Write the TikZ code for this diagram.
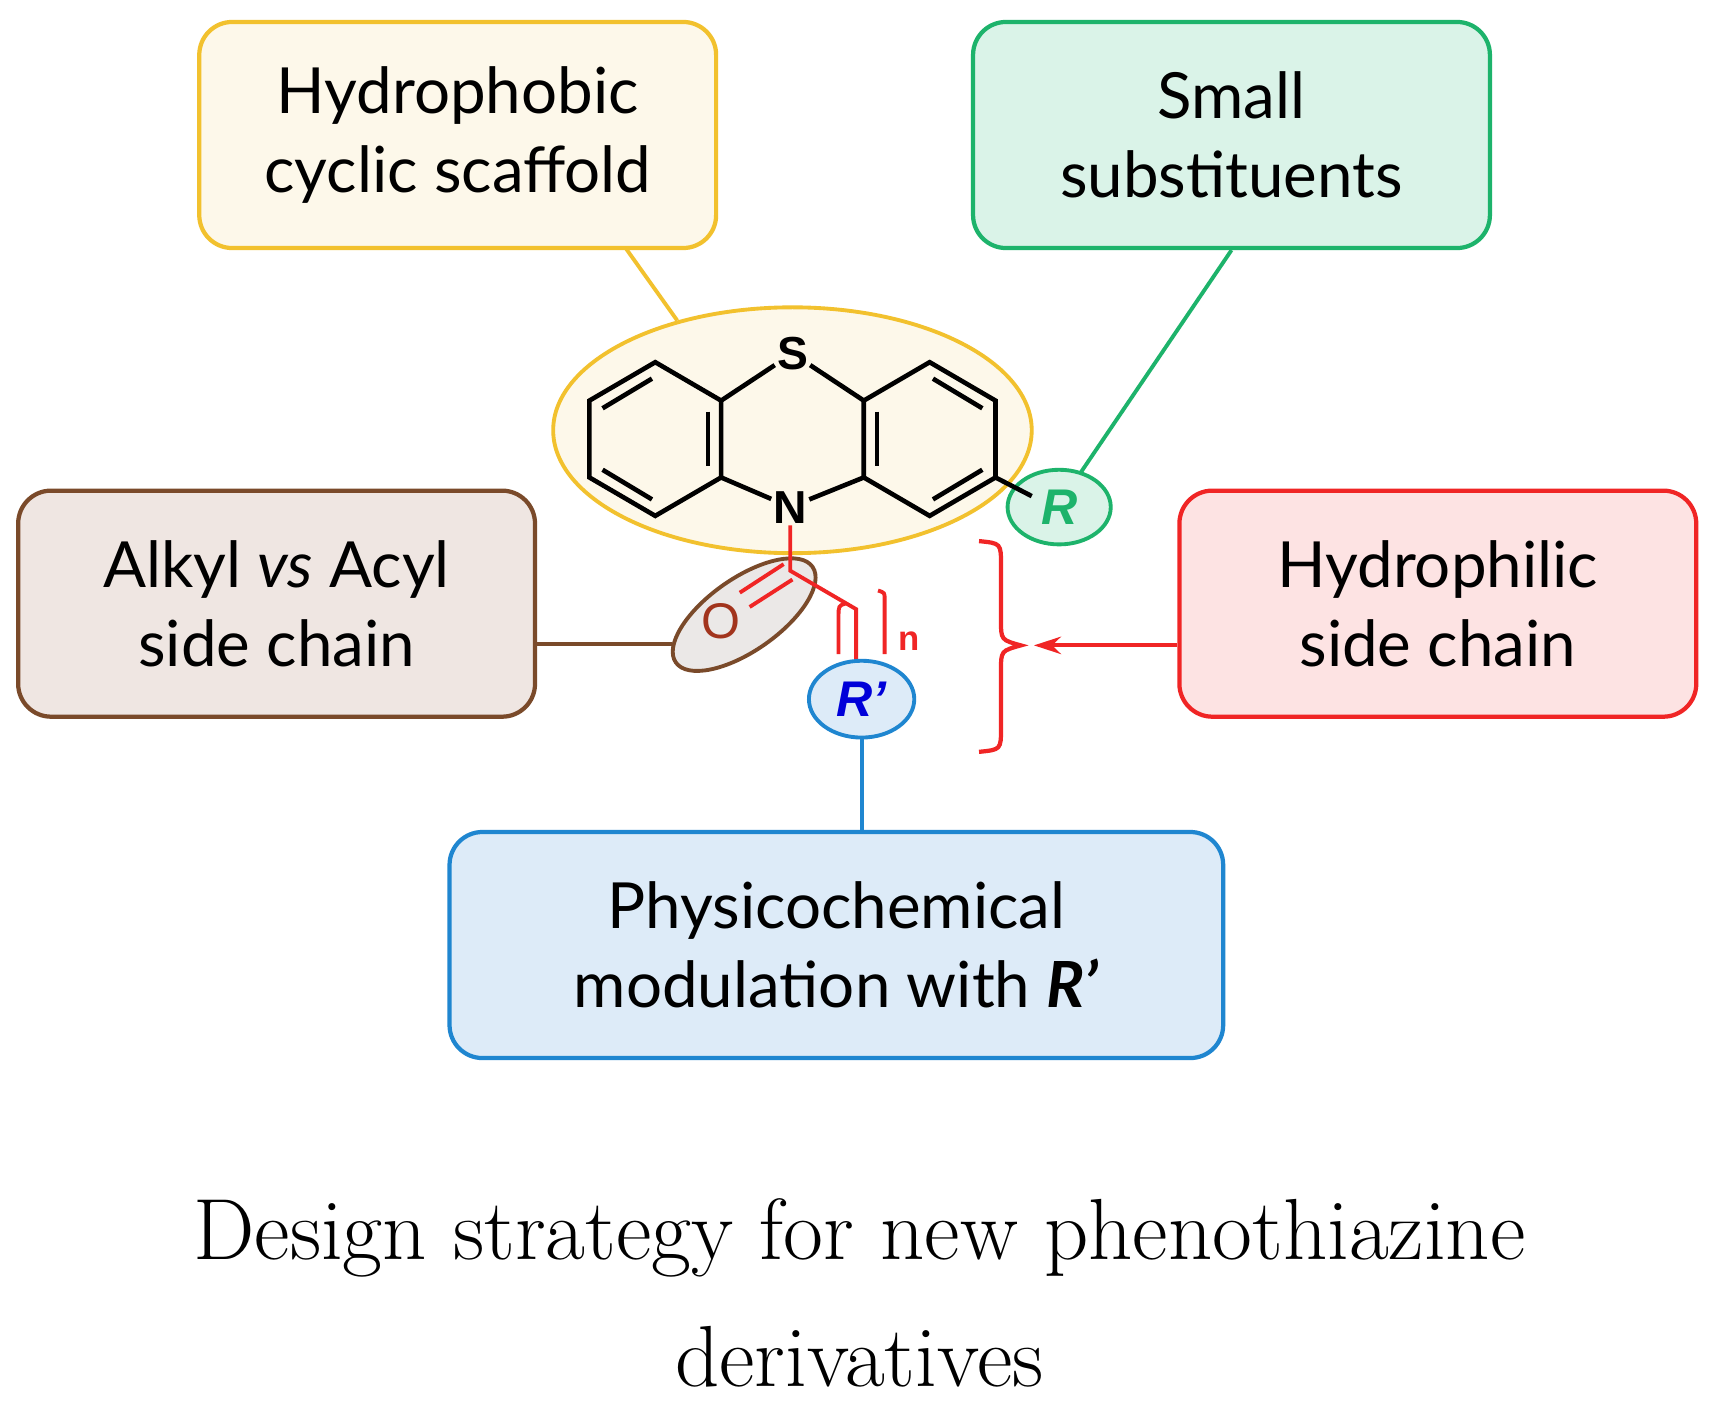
\documentclass[tikz,border=0pt]{standalone}
\usepackage{fontspec}
\setmainfont{Lato}
\newfontfamily\capfont{Latin Modern Roman}
\newfontfamily\molfont{Liberation Sans}
\usetikzlibrary{arrows.meta}
\definecolor{yelB}{HTML}{F2C12E}\definecolor{yelF}{HTML}{FDF8EA}
\definecolor{grnB}{HTML}{1DB36B}\definecolor{grnF}{HTML}{DAF3E8}
\definecolor{brnB}{HTML}{7A4A2A}\definecolor{brnF}{HTML}{EFE6E2}
\definecolor{redB}{HTML}{F02525}\definecolor{redF}{HTML}{FDE3E3}
\definecolor{bluB}{HTML}{1F86D0}\definecolor{bluF}{HTML}{DDEBF8}
\tikzset{
 infobox/.style={draw=#1B,fill=#1F,line width=2.2pt,rounded corners=0.6cm,minimum width=9.42cm,minimum height=4.12cm,align=center,font=\fontsize{33}{41}\selectfont},
 bond/.style={line width=2.4pt,black},
 lbl/.style={font=\molfont\bfseries\fontsize{24}{24}\selectfont,inner sep=1pt}
}
\begin{document}
\begin{tikzpicture}[x=0.02cm,y=-0.02cm]
\useasboundingbox[fill=white] (0,0) rectangle (1568,1287);
% boxes
\node[infobox=yel] (hyd) at (417,123) {Hydrophobic\\cyclic scaffold};
\node[infobox=grn] (sma) at (1122,123) {Small\\substituents};
\node[infobox=brn] (alk) at (252,550) {Alkyl \textit{vs} Acyl\\side chain};
\node[infobox=red] (hph) at (1310,550) {Hydrophilic\\side chain};
\node[infobox=blu,minimum width=14.1cm] (phy) at (762,861) {Physicochemical\\modulation with \textbf{\textit{R’}}};
% scaffold ellipse
\draw[yelB,line width=2pt,fill=yelF] (722,392) ellipse [x radius=218, y radius=112];
\coordinate (hs) at (570,226);
\draw[yelB,line width=2pt] (hs) -- (617,292);
% molecule
\node[lbl] (S) at (722,322) {S};
\node[lbl] (N) at (720,462) {N};
\coordinate (a1) at (597,330);\coordinate (a2) at (657,365);\coordinate (a3) at (657,435);
\coordinate (a4) at (597,470);\coordinate (a5) at (537,435);\coordinate (a6) at (537,365);
\coordinate (b1) at (847,330);\coordinate (b2) at (907,365);\coordinate (b3) at (907,435);
\coordinate (b4) at (847,470);\coordinate (b5) at (787,435);\coordinate (b6) at (787,365);
\draw[bond,line join=miter] (a1)--(a2)--(a3)--(a4)--(a5)--(a6)--cycle;
\draw[bond,line join=miter] (b1)--(b2)--(b3)--(b4)--(b5)--(b6)--cycle;
\draw[bond] (a2)--(S)--(b6); \draw[bond] (a3)--(N)--(b5);
\draw[bond] (549,372)--(594,345); \draw[bond] (549,428)--(594,455); \draw[bond] (645,375)--(645,425);
\draw[bond] (799,375)--(799,425); \draw[bond] (850,345)--(895,372); \draw[bond] (850,455)--(895,428);
% R
\draw[grnB,line width=2pt] (sma.south) -- (985,430);
\draw[grnB,line width=2pt,fill=grnF] (965,462) ellipse [x radius=47, y radius=34];
\draw[bond] (b3)--(940,452);
\node[font=\molfont\bfseries\itshape\fontsize{26}{26}\selectfont,text=grnB] (R) at (965,462) {R};
% acyl
\draw[brnB,line width=2pt] (alk.east) ++(0,37) -- (612,587);
\draw[brnB,line width=2pt,fill=brnF!75!gray!45] (678,560) ellipse [x radius=76, y radius=33, rotate=35];
\node[font=\molfont\fontsize{26}{26}\selectfont,text=brnB!70!red] (O) at (657,566) {O};
\draw[redB,line width=2pt] (N.south) -- (720,520) coordinate (C) -- (780,555) -- (780,608);
\draw[redB,line width=2pt] (714,514)--(674,540) (722,528)--(683,553);
\draw[redB,line width=2pt] (764,596)--(764,562) .. controls (764,552) .. (770,550);
\draw[redB,line width=2pt] (806,596)--(806,546) .. controls (806,540) .. (800,538);
\node[font=\molfont\bfseries\fontsize{18}{18}\selectfont,text=redB] at (828,584) {n};
% R'
\draw[bluB,line width=2pt] (785,672) -- (phy.north -| 785,0);
\draw[bluB,line width=2pt,fill=bluF] (785,637) ellipse [x radius=48, y radius=35];
\node[font=\molfont\bfseries\itshape\fontsize{26}{26}\selectfont,text=blue!85!black] (Rp) at (785,637) {R’};
% brace
\draw[redB,line width=2.2pt] (892,493) .. controls (912,495) .. (912,515) -- (912,565) .. controls (912,583) .. (930,588)
  .. controls (912,593) .. (912,611) -- (912,663) .. controls (912,683) .. (892,685);
\draw[redB,line width=2pt,-{Stealth[length=14pt,width=9pt]}] (hph.west) ++(0,38) -- (942,588);
% caption
\node[font=\capfont\fontsize{45}{66}\selectfont,align=center] (cap) at (783,1178) {Design strategy for new phenothiazine\\derivatives};
\end{tikzpicture}
\end{document}
